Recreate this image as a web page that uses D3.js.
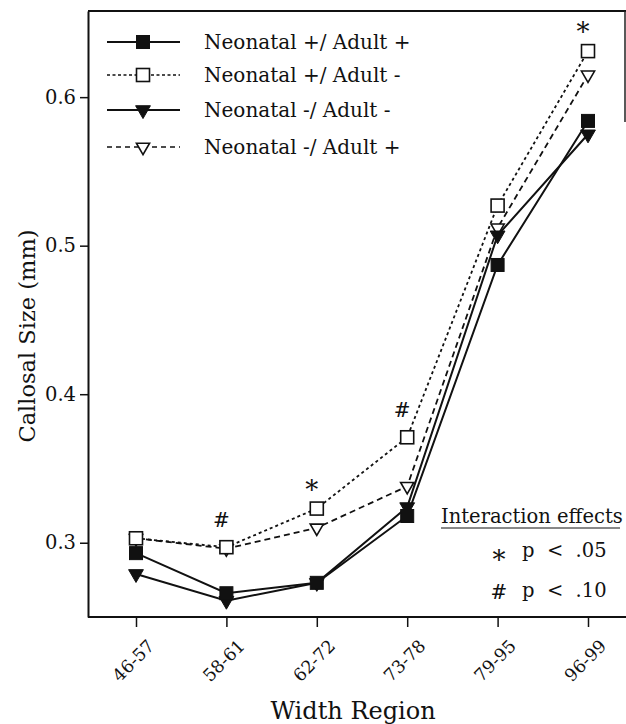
<!DOCTYPE html>
<html>
<head>
<meta charset="utf-8">
<script src="https://cdn.jsdelivr.net/npm/d3@7"></script>
<style>
  html, body { margin: 0; padding: 0; background: #fff; }
  svg { display: block; }
  text { font-family: "DejaVu Serif", "Liberation Serif", serif; fill: #111; }
</style>
</head>
<body>
<svg id="chart" width="626" height="724"></svg>
<script>
// ---- data ----
const categories = ["46-57", "58-61", "62-72", "73-78", "79-95", "96-99"];
const seriesNames = ["Neonatal +/ Adult +", "Neonatal +/ Adult -", "Neonatal -/ Adult -", "Neonatal -/ Adult +"];
const neoPlusAdultPlus  = [0.293, 0.266, 0.273, 0.318, 0.487, 0.584];
const neoPlusAdultMinus = [0.303, 0.297, 0.323, 0.371, 0.527, 0.631];
const neoMinusAdultMinus = [0.279, 0.261, 0.273, 0.324, 0.507, 0.575];
const neoMinusAdultPlus = [0.303, 0.296, 0.310, 0.338, 0.512, 0.615];
const yTicks = [0.3, 0.4, 0.5, 0.6];
const annotations = [
  { cat: "58-61", sym: "#" },
  { cat: "62-72", sym: "*" },
  { cat: "73-78", sym: "#" },
  { cat: "96-99", sym: "*" }
];
const legendNotes = [{ sym: "*", text: "p  <  .05" }, { sym: "#", text: "p  <  .10" }];

(function () {
// series styling (marker shape, fill, dash)
const series = [
  { name: seriesNames[3], values: neoMinusAdultPlus,  shape: "tri", filled: false, dash: "6,4", legendDash: "5,4" },
  { name: seriesNames[1], values: neoPlusAdultMinus,  shape: "sq",  filled: false, dash: "3,3", legendDash: "3,2.5" },
  { name: seriesNames[2], values: neoMinusAdultMinus, shape: "tri", filled: true,  dash: null,  legendDash: null },
  { name: seriesNames[0], values: neoPlusAdultPlus,   shape: "sq",  filled: true,  dash: null,  legendDash: null }
];

const svg = d3.select("#chart");
const mLeft = 88, mRight = 625, mTop = 11, mBottom = 617;

const x = d3.scalePoint().domain(categories).range([136, 588]);
const y = d3.scaleLinear().domain([0.25, 0.658]).range([mBottom, mTop]);

// frame
svg.append("line").attr("x1", mLeft).attr("x2", 626).attr("y1", mTop).attr("y2", mTop)
  .attr("stroke", "#111").attr("stroke-width", 2);
svg.append("line").attr("x1", mRight).attr("x2", mRight).attr("y1", mTop).attr("y2", 122)
  .attr("stroke", "#222").attr("stroke-width", 1.5);

// axes
const yAxis = svg.append("g").attr("transform", `translate(${mLeft},0)`)
  .call(d3.axisLeft(y).tickValues(yTicks).tickFormat(d3.format(".1f")).tickSize(8).tickSizeOuter(0).tickPadding(4));
yAxis.select(".domain").attr("stroke", "#111").attr("stroke-width", 2);
yAxis.selectAll(".tick line").attr("stroke", "#111").attr("stroke-width", 1.5);
yAxis.selectAll(".tick text").attr("font-size", 19.5).attr("font-family", "DejaVu Serif").attr("fill", "#111");

const xAxis = svg.append("g").attr("transform", `translate(0,${mBottom})`)
  .call(d3.axisBottom(x).tickSize(10).tickSizeOuter(0));
xAxis.select(".domain").attr("d", `M${mLeft},0H626`).attr("stroke", "#111").attr("stroke-width", 2);
xAxis.selectAll(".tick line").attr("stroke", "#111").attr("stroke-width", 1.5);
xAxis.selectAll(".tick text")
  .attr("font-size", 17.5).attr("font-family", "DejaVu Serif").attr("fill", "#111")
  .attr("text-anchor", "end").attr("dy", 0)
  .attr("transform", "translate(19,30) rotate(-45)")
  .attr("y", 0).attr("x", 0);

// axis titles
svg.append("text").attr("transform", `translate(35,336) rotate(-90)`)
  .attr("text-anchor", "middle").attr("font-size", 22.5).text("Callosal Size (mm)");
svg.append("text").attr("x", 353).attr("y", 719)
  .attr("text-anchor", "middle").attr("font-size", 24).text("Width Region");

// lines
const line = d3.line().x((d, i) => x(categories[i])).y(d => y(d));
series.forEach(s => {
  svg.append("path").datum(s.values).attr("d", line)
    .attr("fill", "none").attr("stroke", "#111").attr("stroke-width", s.dash ? 1.8 : 2)
    .attr("stroke-dasharray", s.dash);
});

function drawMarker(g, shape, filled, cx, cy) {
  if (shape === "sq") {
    g.append("rect").attr("x", cx - 6.5).attr("y", cy - 6.5).attr("width", 13).attr("height", 13)
      .attr("fill", filled ? "#111" : "#fff").attr("stroke", "#111").attr("stroke-width", filled ? 1 : 1.6);
  } else {
    const sym = d3.symbol().type(d3.symbolTriangle).size(filled ? 95 : 75);
    g.append("path").attr("d", sym())
      .attr("transform", `translate(${cx},${cy}) rotate(180)`)
      .attr("fill", filled ? "#111" : "#fff").attr("stroke", "#111").attr("stroke-width", filled ? 1 : 1.6);
  }
}

series.forEach(s => {
  const g = svg.append("g");
  s.values.forEach((v, i) => drawMarker(g, s.shape, s.filled, x(categories[i]), y(v)));
});

// significance annotations above the highest point
annotations.forEach(a => {
  const i = categories.indexOf(a.cat);
  const maxV = d3.max(series, s => s.values[i]);
  const isStar = a.sym === "*";
  svg.append("text")
    .attr("x", x(a.cat) - 5)
    .attr("y", y(maxV) - (isStar ? 10 : 20))
    .attr("text-anchor", "middle")
    .attr("font-size", isStar ? 26 : 20)
    .attr("font-family", isStar ? "DejaVu Sans" : "DejaVu Serif")
    .text(a.sym);
});

// legend
const legendRows = [seriesNames[0], seriesNames[1], seriesNames[2], seriesNames[3]];
const legendY = [42, 75, 110, 147];
legendRows.forEach((name, r) => {
  const s = series.find(d => d.name === name);
  const g = svg.append("g");
  g.append("line").attr("x1", 107).attr("x2", 180).attr("y1", legendY[r]).attr("y2", legendY[r])
    .attr("stroke", "#111").attr("stroke-width", s.legendDash ? 1.6 : 2)
    .attr("stroke-dasharray", s.legendDash);
  drawMarker(g, s.shape, s.filled, 143, legendY[r]);
  g.append("text").attr("x", 204).attr("y", legendY[r] + 7).attr("font-size", 20).text(name);
});

// interaction effects box
svg.append("text").attr("x", 441).attr("y", 523).attr("font-size", 19.5).text("Interaction effects");
svg.append("line").attr("x1", 441).attr("x2", 620).attr("y1", 528).attr("y2", 528)
  .attr("stroke", "#111").attr("stroke-width", 1);
legendNotes.forEach((n, k) => {
  const by = 561 + k * 40;
  const isStar = n.sym === "*";
  svg.append("text").attr("x", 499).attr("y", by + (isStar ? 8 : -2))
    .attr("text-anchor", "middle").attr("font-size", isStar ? 26 : 20)
    .attr("font-family", isStar ? "DejaVu Sans" : "DejaVu Serif").text(n.sym);
  svg.append("text").attr("x", 522).attr("y", by - 4).attr("font-size", 19.5)
    .style("white-space", "pre").text(n.text);
});
})();
</script>
</body>
</html>
